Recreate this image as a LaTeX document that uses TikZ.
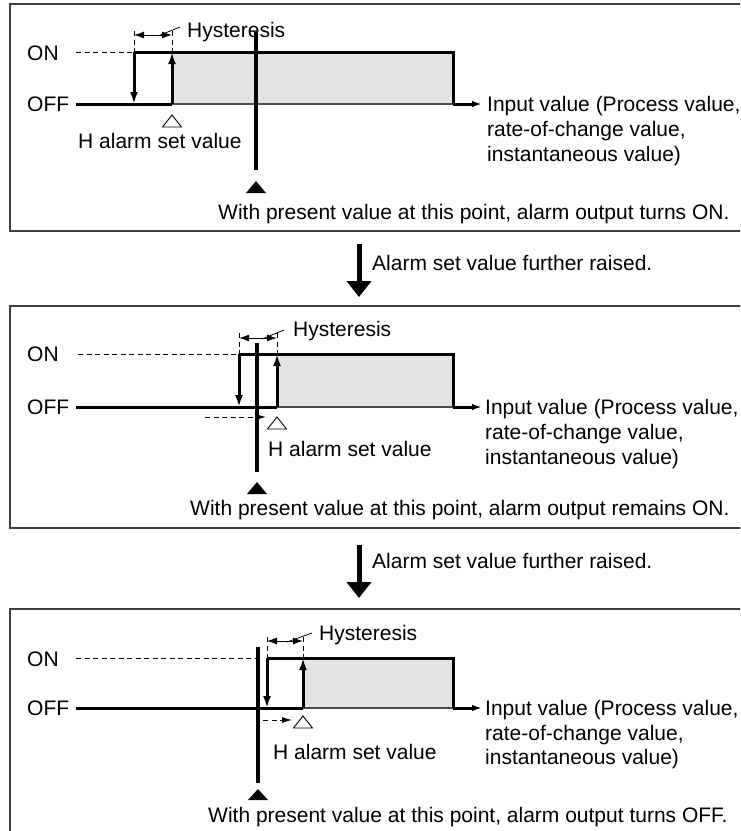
\documentclass[tikz,border=0pt]{standalone}
\usepackage{fontspec}
\setmainfont{Liberation Sans}
\usetikzlibrary{arrows.meta}
\begin{document}
\begin{tikzpicture}[x=1pt,y=-1pt,
  lbl/.style={font=\fontsize{21}{25}\selectfont, inner sep=0pt, anchor=west, text height=15pt, text depth=0pt},
  frame/.style={draw=black!75, line width=1.3pt},
  sig/.style={line width=3pt, line join=miter},
  pres/.style={line width=4.2pt},
  dsh/.style={line width=0.9pt, dash pattern=on 5pt off 3.5pt},
  steptip/.style={-{Latex[length=12pt,width=8pt]}},
  dimtip/.style={line width=1pt,{Latex[length=10pt,width=7pt]}-{Latex[length=10pt,width=7pt]}},
  intip/.style={line width=3pt,-{Latex[length=10pt,width=6.5pt]}},
  area/.style={fill=black!11},
  base/.style={line width=1.2pt, draw=black!70},
  opentri/.style={draw, line width=0.9pt, fill=white},
  bigarrow/.style={line width=5pt,-{Triangle[length=16pt,width=24pt]}}]
\useasboundingbox (0,0) rectangle (740,831);
\clip (0,0) rectangle (740,831);

% ================= Panel 1 =================
\draw[frame] (10,4) rectangle (760,231);
\node[lbl] (on1) at (27,53) {ON};
\node[lbl] (off1) at (27,104) {OFF};
\coordinate (a1) at (134,52); \coordinate (b1) at (172,52);
\coordinate (a1o) at (134,104); \coordinate (b1o) at (172,104);
\coordinate (r1) at (453,52); \coordinate (r1o) at (453,104);
\coordinate (e1) at (482,104);
\fill[area] (b1) rectangle (r1o);
\draw[base] (b1o) -- (r1o);
\draw[dsh] (76,52) -- (a1);
\draw[sig] (76,104) -- (b1o);
\draw[sig] (a1) -- (r1) -- (r1o);
\draw[intip] (r1o) -- (e1);
\draw[sig,steptip] (a1) -- (a1o);
\draw[sig,steptip] (b1o) -- (b1);
\draw[dsh] (134,31) -- (a1);
\draw[dsh] (172,31) -- (b1);
\draw[dimtip] (134,35) -- (172,35);
\node[lbl] (hy1) at (187,30) {Hysteresis};
\draw[line width=0.8pt] (158,36) -- (180,27);
\draw[pres] (256,32) -- (256,170);
\fill (256,181) -- (266,193) -- (246,193) -- cycle;
\draw[opentri] (172,115) -- (181.5,127) -- (162.5,127) -- cycle;
\node[lbl] (h1) at (78,141) {H alarm set value};
\node[lbl] (in1a) at (487,104) {Input value (Process value,};
\node[lbl] (in1b) at (487,129) {rate-of-change value,};
\node[lbl] (in1c) at (487,154) {instantaneous value)};
\node[lbl] (w1) at (218,212) {With present value at this point, alarm output turns ON.};

% ================= Arrow 1 =================
\coordinate (d1s) at (359,244); \coordinate (d1e) at (359,297);
\draw[bigarrow] (d1s) -- (d1e);
\node[lbl] (t1) at (372,263) {Alarm set value further raised.};

% ================= Panel 2 =================
\draw[frame] (10,306) rectangle (760,528);
\node[lbl] (on2) at (27,354) {ON};
\node[lbl] (off2) at (27,407) {OFF};
\coordinate (a2) at (239,354); \coordinate (b2) at (277,354);
\coordinate (a2o) at (239,407); \coordinate (b2o) at (277,407);
\coordinate (r2) at (453,354); \coordinate (r2o) at (453,407);
\coordinate (e2) at (482,407);
\fill[area] (b2) rectangle (r2o);
\draw[base] (b2o) -- (r2o);
\draw[dsh] (78,354) -- (a2);
\draw[sig] (76,407) -- (b2o);
\draw[sig] (a2) -- (r2) -- (r2o);
\draw[intip] (r2o) -- (e2);
\draw[sig,steptip] (a2) -- (a2o);
\draw[sig,steptip] (b2o) -- (b2);
\draw[dsh] (239,333) -- (a2);
\draw[dsh] (277,333) -- (b2);
\draw[dimtip] (239,338) -- (277,338);
\node[lbl] (hy2) at (293,329) {Hysteresis};
\draw[line width=0.8pt] (262,339) -- (284,330);
\draw[dsh,-{Latex[length=10pt,width=6pt]}] (205,417) -- (266,417);
\draw[pres] (257,343) -- (257,472);
\fill (257,482) -- (267,494) -- (247,494) -- cycle;
\draw[opentri] (277,417) -- (286.5,429) -- (267.5,429) -- cycle;
\node[lbl] (h2) at (268,449) {H alarm set value};
\node[lbl] (in2a) at (485,407) {Input value (Process value,};
\node[lbl] (in2b) at (485,432) {rate-of-change value,};
\node[lbl] (in2c) at (485,457) {instantaneous value)};
\node[lbl] (w2) at (190,508) {With present value at this point, alarm output remains ON.};

% ================= Arrow 2 =================
\coordinate (d2s) at (359,545); \coordinate (d2e) at (359,598);
\draw[bigarrow] (d2s) -- (d2e);
\node[lbl] (t2) at (372,561) {Alarm set value further raised.};

% ================= Panel 3 =================
\draw[frame] (10,609) rectangle (760,845);
\node[lbl] (on3) at (27,659) {ON};
\node[lbl] (off3) at (27,708) {OFF};
\coordinate (a3) at (267,658); \coordinate (b3) at (303,658);
\coordinate (a3o) at (267,708); \coordinate (b3o) at (303,708);
\coordinate (r3) at (453,658); \coordinate (r3o) at (453,708);
\coordinate (e3) at (482,708);
\fill[area] (b3) rectangle (r3o);
\draw[base] (b3o) -- (r3o);
\draw[dsh] (76,658) -- (255,658);
\draw[sig] (76,708) -- (b3o);
\draw[sig] (a3) -- (r3) -- (r3o);
\draw[intip] (r3o) -- (e3);
\draw[sig,steptip] (a3) -- (a3o);
\draw[sig,steptip] (b3o) -- (b3);
\draw[dsh] (267,637) -- (a3);
\draw[dsh] (303,637) -- (b3);
\draw[dimtip] (267,641) -- (303,641);
\node[lbl] (hy3) at (319,633) {Hysteresis};
\draw[line width=0.8pt] (287,642) -- (312,633);
\draw[dsh,-{Latex[length=10pt,width=6pt]}] (263,720) -- (292,720);
\draw[pres] (258,647) -- (258,783);
\fill (258,789) -- (268,800) -- (248,800) -- cycle;
\draw[opentri] (303,716) -- (312.5,728) -- (293.5,728) -- cycle;
\node[lbl] (h3) at (273,752) {H alarm set value};
\node[lbl] (in3a) at (485,708) {Input value (Process value,};
\node[lbl] (in3b) at (485,733) {rate-of-change value,};
\node[lbl] (in3c) at (485,757) {instantaneous value)};
\node[lbl] (w3) at (208,815) {With present value at this point, alarm output turns OFF.};
\end{tikzpicture}
\end{document}
